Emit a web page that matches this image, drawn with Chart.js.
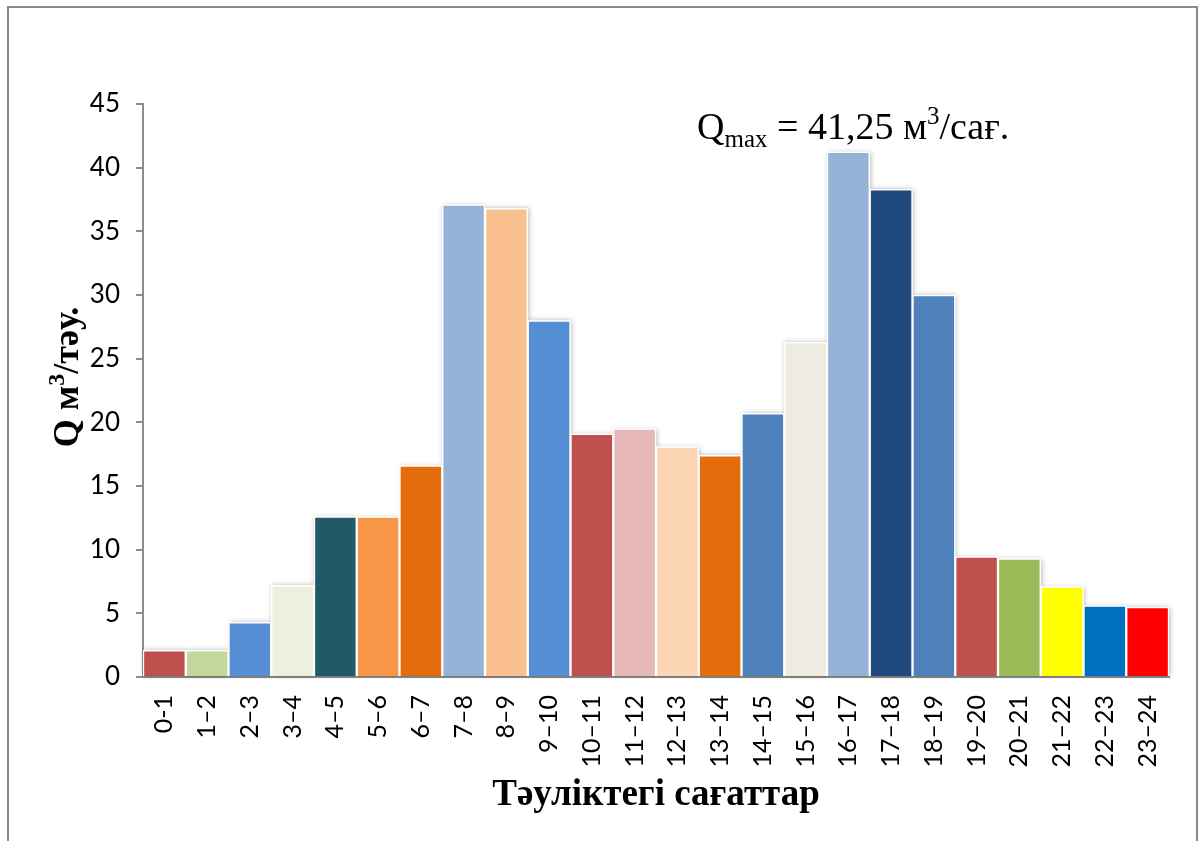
<!DOCTYPE html>
<html>
<head>
<meta charset="utf-8">
<script src="https://cdn.jsdelivr.net/npm/chart.js@4.4.1/dist/chart.umd.min.js"></script>
<style>
  html, body { margin: 0; padding: 0; background: #fff; overflow: hidden; }
  #wrap { position: relative; width: 1200px; height: 841px; }
</style>
</head>
<body>
<div id="wrap"><canvas id="c" width="1200" height="841"></canvas></div>
<script>
// Hourly water consumption over a day
const hours = ['0-1', '1–2', '2–3', '3–4', '4–5', '5–6', '6–7', '7–8', '8–9', '9–10',
  '10–11', '11–12', '12–13', '13–14', '14–15', '15–16', '16–17', '17–18', '18–19',
  '19–20', '20–21', '21–22', '22–23', '23–24'];

const flow = [2.1, 2.1, 4.3, 7.2, 12.6, 12.6, 16.6, 37.1, 36.8, 28.0,
  19.1, 19.5, 18.1, 17.4, 20.7, 26.3, 41.25, 38.3, 30.0,
  9.45, 9.3, 7.1, 5.6, 5.5];

const barColors = ['#C0504D', '#C4D79B', '#558ED5', '#EBF1DE', '#215968', '#F79646',
  '#E46C0A', '#95B3D7', '#FAC090', '#558ED5', '#C0504D', '#E6B9B8', '#FCD5B5',
  '#E46C0A', '#4F81BD', '#EEECE1', '#95B3D7', '#1F497D', '#4F81BD', '#C0504D',
  '#9BBB59', '#FFFF00', '#0070C0', '#FF0000'];

const yTicks = [0, 5, 10, 15, 20, 25, 30, 35, 40, 45];

const axisGray = '#8c8c8c';
const serif = '"Liberation Serif", "Times New Roman", serif';
const sans = 'Lato, "Open Sans", sans-serif';

// Outer frame, soft bar shadows, axis titles and the peak note
const decorations = {
  id: 'decorations',
  beforeDraw(chart) {
    const ctx = chart.ctx;
    ctx.save();
    ctx.strokeStyle = '#8a8a8a';
    ctx.lineWidth = 2;
    ctx.beginPath();
    ctx.moveTo(8, 860);
    ctx.lineTo(8, 7);
    ctx.lineTo(1197, 7);
    ctx.lineTo(1197, 860);
    ctx.stroke();
    ctx.restore();
  },
  beforeDatasetsDraw(chart) {
    const ctx = chart.ctx;
    const meta = chart.getDatasetMeta(0);
    ctx.save();
    ctx.shadowColor = 'rgba(0,0,0,0.28)';
    ctx.shadowBlur = 5;
    ctx.shadowOffsetX = 1;
    ctx.shadowOffsetY = 0;
    ctx.fillStyle = '#ffffff';
    meta.data.forEach(bar => {
      const p = bar.getProps(['x', 'y', 'base', 'width'], true);
      ctx.fillRect(p.x - p.width / 2, p.y, p.width, p.base - p.y);
    });
    ctx.restore();
  },
  afterDraw(chart) {
    const ctx = chart.ctx;
    const area = chart.chartArea;
    ctx.save();
    ctx.fillStyle = '#000';

    // y-axis title
    ctx.save();
    ctx.translate(69, 377);
    ctx.rotate(-Math.PI / 2);
    ctx.textBaseline = 'middle';
    const yParts = [
      { t: 'Q м', size: 36, dy: 0 },
      { t: '3', size: 24, dy: -11 },
      { t: '/тәу.', size: 36, dy: 0 }
    ];
    let total = 0;
    yParts.forEach(p => { ctx.font = 'bold ' + p.size + 'px ' + serif; p.w = ctx.measureText(p.t).width; total += p.w; });
    let x = -total / 2;
    yParts.forEach(p => {
      ctx.font = 'bold ' + p.size + 'px ' + serif;
      ctx.textAlign = 'left';
      ctx.fillText(p.t, x, p.dy);
      x += p.w;
    });
    ctx.restore();

    // x-axis title
    ctx.font = 'bold 37px ' + serif;
    ctx.textAlign = 'center';
    ctx.textBaseline = 'alphabetic';
    ctx.fillText('Тәуліктегі сағаттар', (area.left + area.right) / 2, 805);

    // peak flow note
    const peak = Math.max(...flow);
    const peakText = peak.toFixed(2).replace('.', ',');
    const noteParts = [
      { t: 'Q', size: 38, dy: 0 },
      { t: 'max', size: 25, dy: 8 },
      { t: ' = ' + peakText + ' м', size: 38, dy: 0 },
      { t: '3', size: 25, dy: -15 },
      { t: '/сағ.', size: 38, dy: 0 }
    ];
    let nx = 697;
    const base = 139;
    ctx.textAlign = 'left';
    noteParts.forEach(p => {
      ctx.font = p.size + 'px ' + serif;
      ctx.fillText(p.t, nx, base + p.dy);
      nx += ctx.measureText(p.t).width;
    });
    ctx.restore();
  }
};

new Chart(document.getElementById('c'), {
  type: 'bar',
  data: {
    labels: hours,
    datasets: [{
      data: flow,
      backgroundColor: barColors,
      borderColor: '#ffffff',
      borderWidth: 1.5,
      categoryPercentage: 1,
      barPercentage: 1
    }]
  },
  options: {
    responsive: false,
    animation: false,
    devicePixelRatio: 1,
    layout: { padding: { left: 0, right: 31, top: 104, bottom: 0 } },
    plugins: {
      legend: { display: false },
      tooltip: { enabled: false }
    },
    scales: {
      x: {
        grid: { display: false },
        border: { display: true, color: axisGray, width: 2 },
        ticks: {
          color: '#000',
          font: { family: sans, size: 25 },
          maxRotation: 90,
          minRotation: 90,
          autoSkip: false,
          padding: 10
        },
        afterFit(scale) { scale.height = 841 - 104 - 573; }
      },
      y: {
        min: 0,
        max: 45,
        afterBuildTicks(scale) { scale.ticks = yTicks.map(v => ({ value: v })); },
        grid: {
          display: true,
          drawOnChartArea: false,
          drawTicks: true,
          tickLength: 7,
          color: axisGray,
          lineWidth: 2
        },
        border: { display: true, color: axisGray, width: 2 },
        ticks: {
          color: '#000',
          font: { family: sans, size: 26 },
          padding: 16
        },
        afterFit(scale) { scale.width = 143; }
      }
    }
  },
  plugins: [decorations]
});
</script>
</body>
</html>
